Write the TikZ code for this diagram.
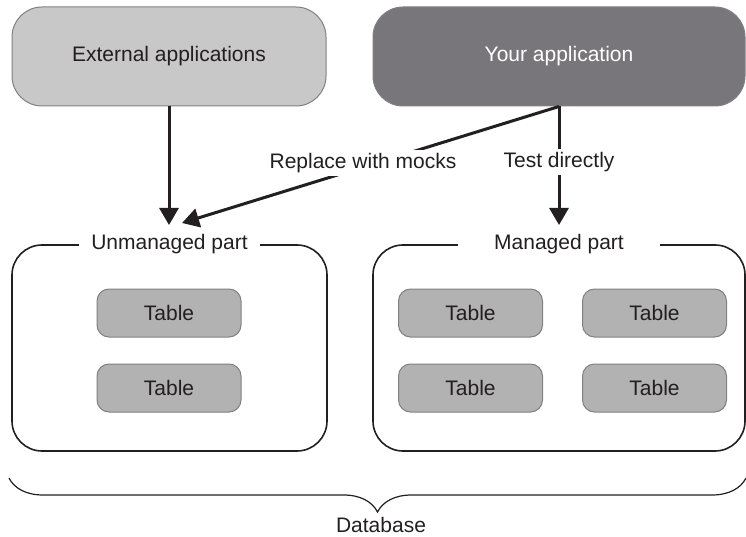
\documentclass[tikz,border=0pt]{standalone}
\usepackage{fontspec}
\setmainfont{Liberation Sans}
\usetikzlibrary{positioning, calc, arrows.meta, decorations.pathreplacing}
\definecolor{lightbox}{RGB}{200,200,200}
\definecolor{darkbox}{RGB}{120,118,122}
\definecolor{tablegray}{RGB}{178,178,178}
\definecolor{edgegray}{RGB}{128,128,128}
\definecolor{inkblack}{RGB}{35,31,32}

\begin{document}
\begin{tikzpicture}[
        x=1pt, y=-1pt,
        font=\fontsize{21}{25}\selectfont, text=inkblack,
        appbox/.style={rectangle, draw=edgegray, line width=1pt, rounded corners=30pt, minimum height=99pt, align=center},
        tablebox/.style={rectangle, draw=edgegray, fill=tablegray, line width=1pt, rounded corners=12pt, minimum width=144pt, minimum height=48pt},
        partframe/.style={rectangle, draw=inkblack, line width=1.6pt, rounded corners=30pt, minimum height=206pt},
        partlabel/.style={fill=white, inner ysep=2pt, inner xsep=12pt},
        flow/.style={-{Triangle[width=19pt, length=17pt]}, line width=3pt, draw=inkblack},
        onflow/.style={fill=white, inner sep=3pt}
    ]
        \useasboundingbox (0,0) rectangle (746,537);

        % applications
        \node[appbox, fill=lightbox, minimum width=314pt] (EXT) at (169,56.5) {External applications};
        \node[appbox, fill=darkbox, minimum width=372pt, text=white] (YOURS) at (559,56.5) {Your application};

        % database parts
        \node[partframe, minimum width=315pt] (UNMANAGED) at (169.5,348) {};
        \node[partframe, minimum width=372pt] (MANAGED) at (559,348) {};
        \node[partlabel] (ULABEL) at (UNMANAGED.north) {Unmanaged part};
        \node[partlabel, minimum width=202pt] (MLABEL) at (MANAGED.north) {Managed part};

        \node[tablebox] (U1) at (169,313) {Table};
        \node[tablebox, below=26pt of U1] (U2) {Table};
        \node[tablebox] (M1) at (470.5,313) {Table};
        \node[tablebox, right=39pt of M1] (M2) {Table};
        \node[tablebox, below=26pt of M1] (M3) {Table};
        \node[tablebox, below=26pt of M2] (M4) {Table};

        \coordinate (EXTIN) at (169,225);
        \coordinate (MOCKIN) at (182,223);
        \coordinate (DIRECTIN) at (559,225);

        \draw[flow] (EXT.south) -- (EXTIN);
        \draw[flow] (YOURS.south) -- (MOCKIN) node[onflow, pos=0.52, yshift=4pt] {Replace with mocks};
        \draw[flow] (YOURS.south) -- (DIRECTIN) node[onflow, pos=0.47] {Test directly};

        % whole database
        \coordinate (DBLEFT) at (9,478);
        \coordinate (DBRIGHT) at (746,478);
        \draw[decorate, decoration={brace, mirror, amplitude=34pt}, line width=1.2pt, draw=inkblack] (DBLEFT) -- (DBRIGHT);
        \node[inner sep=1pt] (DATABASE) at (381,525) {Database};
    \end{tikzpicture}
\end{document}
